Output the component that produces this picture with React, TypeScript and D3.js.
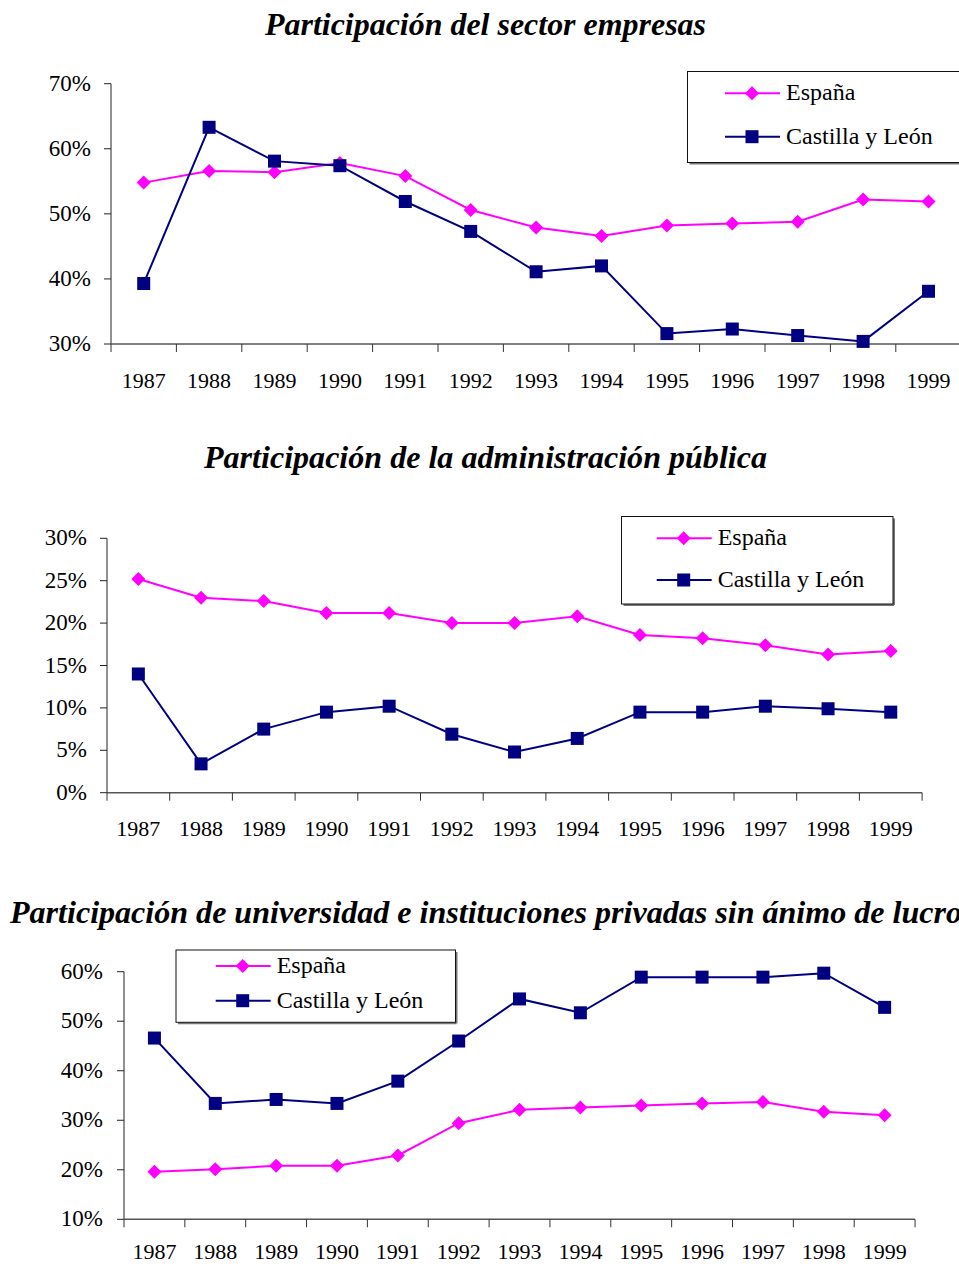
import React from "react";
import * as d3 from "d3";

const years = ["1987", "1988", "1989", "1990", "1991", "1992", "1993", "1994", "1995", "1996", "1997", "1998", "1999"];

const empresasEspana = [54.8, 56.6, 56.4, 57.8, 55.8, 50.6, 47.9, 46.6, 48.2, 48.5, 48.8, 52.2, 51.9];
const empresasCyL = [39.3, 63.3, 58.1, 57.4, 51.9, 47.3, 41.1, 42.0, 31.6, 32.3, 31.3, 30.4, 38.1];

const adminEspana = [25.2, 23.0, 22.6, 21.2, 21.2, 20.0, 20.0, 20.8, 18.6, 18.2, 17.4, 16.3, 16.7];
const adminCyL = [14.0, 3.4, 7.5, 9.5, 10.2, 6.9, 4.8, 6.4, 9.5, 9.5, 10.2, 9.9, 9.5];

const univEspana = [19.6, 20.1, 20.8, 20.8, 22.9, 29.4, 32.1, 32.6, 33.0, 33.4, 33.7, 31.7, 31.0];
const univCyL = [46.6, 33.4, 34.2, 33.4, 37.9, 46.0, 54.5, 51.7, 58.9, 58.9, 58.9, 59.7, 52.8];

const seriesNames = ["España", "Castilla y León"];

const PINK = "#ff00ff";
const NAVY = "#000080";
const FONT = "Liberation Serif, Times New Roman, serif";

function Diamond({ x, y, r }) {
  return <path d={`M${x},${y - r}L${x + r},${y}L${x},${y + r}L${x - r},${y}Z`} fill={PINK} />;
}

function Square({ x, y, s }) {
  return <rect x={x - s / 2} y={y - s / 2} width={s} height={s} fill={NAVY} />;
}

function Chart({ cfg }) {
  const x = d3
    .scaleBand()
    .domain(years)
    .range([cfg.left, cfg.left + cfg.band * years.length]);
  const y = d3.scaleLinear().domain(cfg.domain).range([cfg.bottom, cfg.top]);
  const ticks = d3.range(cfg.domain[0], cfg.domain[1] + 0.001, cfg.step);
  const cx = (d) => x(d) + x.bandwidth() / 2;
  const line = d3
    .line()
    .x((d, i) => cx(years[i]))
    .y((d) => y(d));
  const bounds = years.map((d) => x(d)).concat([cfg.left + cfg.band * years.length]);
  const lg = cfg.legend;

  return (
    <g>
      <text
        x={cfg.titleX}
        y={cfg.titleY}
        textAnchor={cfg.titleAnchor}
        fontFamily={FONT}
        fontWeight="bold"
        fontStyle="italic"
        fontSize={31}
        textLength={cfg.titleLen}
        lengthAdjust="spacingAndGlyphs"
      >
        {cfg.title}
      </text>

      {/* y axis */}
      <line x1={cfg.left} x2={cfg.left} y1={cfg.top} y2={cfg.bottom} stroke="#222" strokeWidth={1} />
      {ticks.map((t) => (
        <g key={t}>
          <line x1={cfg.left - 7} x2={cfg.left} y1={y(t)} y2={y(t)} stroke="#222" strokeWidth={1} />
          <text
            x={cfg.yLabelRight}
            y={y(t) + 7}
            textAnchor="end"
            fontFamily={FONT}
            fontSize={23}
          >
            {t + "%"}
          </text>
        </g>
      ))}

      {/* x axis */}
      <line
        x1={cfg.left}
        x2={cfg.left + cfg.band * years.length}
        y1={cfg.bottom}
        y2={cfg.bottom}
        stroke="#555"
        strokeWidth={1.6}
      />
      {bounds.map((b, i) => (
        <line key={i} x1={b} x2={b} y1={cfg.bottom} y2={cfg.bottom + 8} stroke="#333" strokeWidth={1} />
      ))}
      {years.map((d) => (
        <text key={d} x={cx(d)} y={cfg.xLabelY} textAnchor="middle" fontFamily={FONT} fontSize={22}>
          {d}
        </text>
      ))}

      {/* series */}
      <path d={line(cfg.espana)} fill="none" stroke={PINK} strokeWidth={2} />
      <path d={line(cfg.cyl)} fill="none" stroke={NAVY} strokeWidth={2} />
      {cfg.espana.map((v, i) => (
        <Diamond key={"e" + i} x={cx(years[i])} y={y(v)} r={7} />
      ))}
      {cfg.cyl.map((v, i) => (
        <Square key={"c" + i} x={cx(years[i])} y={y(v)} s={13} />
      ))}

      {/* legend */}
      <line x1={lg.x + 2} x2={lg.x + lg.w + 1} y1={lg.y + lg.h + 1} y2={lg.y + lg.h + 1} stroke="#777" strokeWidth={2} />
      <line x1={lg.x + lg.w + 1} x2={lg.x + lg.w + 1} y1={lg.y + 2} y2={lg.y + lg.h + 1} stroke="#777" strokeWidth={2} />
      <rect x={lg.x} y={lg.y} width={lg.w} height={lg.h} fill="white" stroke="#111" strokeWidth={1} />
      {seriesNames.map((name, i) => {
        const ly = lg.rows[i];
        return (
          <g key={name}>
            <line
              x1={lg.lineX}
              x2={lg.lineX + 55}
              y1={ly}
              y2={ly}
              stroke={i === 0 ? PINK : NAVY}
              strokeWidth={2}
            />
            {i === 0 ? (
              <Diamond x={lg.lineX + 27} y={ly} r={7} />
            ) : (
              <Square x={lg.lineX + 27} y={ly} s={13} />
            )}
            <text x={lg.lineX + 61} y={ly + 7} fontFamily={FONT} fontSize={24}>
              {name}
            </text>
          </g>
        );
      })}
    </g>
  );
}

const charts = [
  {
    title: "Participación del sector empresas",
    titleX: 485.5,
    titleY: 35,
    titleAnchor: "middle",
    titleLen: 441,
    left: 111,
    band: 65.4,
    top: 83.7,
    bottom: 344,
    domain: [30, 70],
    step: 10,
    yLabelRight: 91,
    xLabelY: 388,
    espana: empresasEspana,
    cyl: empresasCyL,
    legend: { x: 687.5, y: 71.5, w: 300, h: 91, lineX: 725, rows: [93.3, 136.7] },
  },
  {
    title: "Participación de la administración pública",
    titleX: 485.5,
    titleY: 468,
    titleAnchor: "middle",
    titleLen: 563,
    left: 107,
    band: 62.7,
    top: 538.3,
    bottom: 792.7,
    domain: [0, 30],
    step: 5,
    yLabelRight: 87,
    xLabelY: 836,
    espana: adminEspana,
    cyl: adminCyL,
    legend: { x: 621.5, y: 516.5, w: 271.5, h: 87.5, lineX: 656.7, rows: [538.3, 580] },
  },
  {
    title: "Participación de universidad e instituciones privadas sin ánimo de lucro",
    titleX: 10,
    titleY: 923,
    titleAnchor: "start",
    titleLen: 952,
    left: 124,
    band: 60.85,
    top: 971.7,
    bottom: 1219.3,
    domain: [10, 60],
    step: 10,
    yLabelRight: 103,
    xLabelY: 1259,
    espana: univEspana,
    cyl: univCyL,
    legend: { x: 176, y: 950, w: 279.5, h: 72.3, lineX: 215.7, rows: [966, 1000.7] },
  },
];

export default function App() {
  return (
    <svg
      width={959}
      height={1266}
      style={{ position: "absolute", left: 0, top: 0, background: "white" }}
    >
      <rect width={959} height={1266} fill="white" />
      {charts.map((c, i) => (
        <Chart key={i} cfg={c} />
      ))}
    </svg>
  );
}
